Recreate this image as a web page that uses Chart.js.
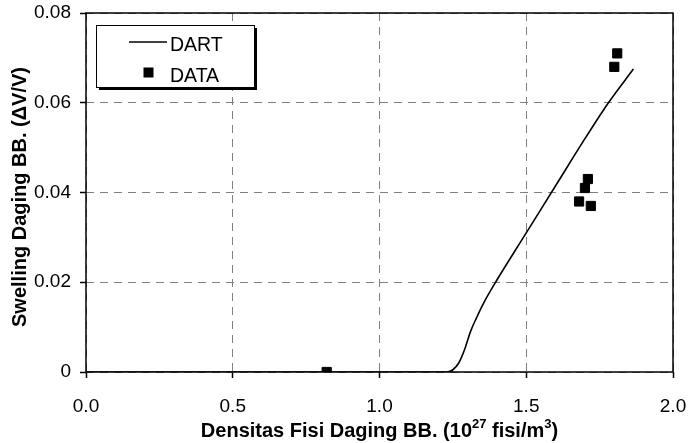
<!DOCTYPE html>
<html lang="en">
<head>
<meta charset="UTF-8">
<title>Swelling Daging BB</title>
<script src="https://cdn.jsdelivr.net/npm/chart.js@4.4.0/dist/chart.umd.min.js"></script>
<style>
  html, body { margin: 0; padding: 0; background: #fff; }
</style>
</head>
<body>
<canvas id="myChart" width="688" height="443"></canvas>
<script>
  // DART hasil perhitungan (garis)
  const dartX = [0, 0.5, 1.0, 1.23, 1.25, 1.27, 1.29, 1.31, 1.33, 1.36, 1.40, 1.50, 1.60, 1.70, 1.78, 1.865];
  const dartY = [0, 0, 0, 0, 0.0005, 0.002, 0.005, 0.009, 0.012, 0.016, 0.0205, 0.031, 0.0415, 0.052, 0.060, 0.0675];
  // data pengukuran (kotak)
  const dataX = [0.82, 1.68, 1.70, 1.71, 1.72, 1.80, 1.81];
  const dataY = [0, 0.038, 0.041, 0.043, 0.037, 0.068, 0.071];
  // label sumbu
  const xTicks = ['0.0', '0.5', '1.0', '1.5', '2.0'];
  const yTicks = ['0', '0.02', '0.04', '0.06', '0.08'];

  const FONT = "'Liberation Sans', Arial, sans-serif";

  // kotak plot, judul sumbu dan legenda
  const decor = {
    id: 'decor',
    afterDatasetsDraw(chart) {
      const ctx = chart.ctx;
      const a = chart.chartArea;
      ctx.save();
      // bingkai plot
      ctx.strokeStyle = '#000';
      ctx.lineWidth = 1.5;
      ctx.strokeRect(a.left, a.top, a.right - a.left, a.bottom - a.top);

      // legenda
      const lx = 96, ly = 25, lw = 158, lh = 62;
      ctx.fillStyle = '#000';
      ctx.fillRect(lx + 3, ly + 3, lw, lh);
      ctx.fillStyle = '#fff';
      ctx.fillRect(lx, ly, lw, lh);
      ctx.lineWidth = 1;
      ctx.strokeRect(lx + 0.5, ly + 0.5, lw, lh);
      ctx.beginPath();
      ctx.lineWidth = 1.5;
      ctx.moveTo(129, 42);
      ctx.lineTo(167, 42);
      ctx.stroke();
      ctx.fillStyle = '#000';
      ctx.fillRect(143.5, 67.5, 10, 10);
      ctx.font = '19.5px ' + FONT;
      ctx.textBaseline = 'middle';
      ctx.textAlign = 'left';
      ctx.fillText(chart.data.datasets[0].label, 170, 46);
      ctx.fillText(chart.data.datasets[1].label, 170, 77);

      // judul sumbu y
      ctx.save();
      ctx.translate(20, 197);
      ctx.rotate(-Math.PI / 2);
      ctx.font = 'bold 20px ' + FONT;
      ctx.textAlign = 'center';
      ctx.textBaseline = 'middle';
      ctx.fillText('Swelling Daging BB. (\u0394V/V)', 0, 0);
      ctx.restore();

      // judul sumbu x dengan pangkat
      const parts = [
        ['Densitas Fisi Daging BB. (10', false],
        ['27', true],
        [' fisi/m', false],
        ['3', true],
        [')', false]
      ];
      const big = 'bold 20px ' + FONT, small = 'bold 13px ' + FONT;
      let total = 0;
      parts.forEach(p => { ctx.font = p[1] ? small : big; total += ctx.measureText(p[0]).width; });
      let x = (a.left + a.right) / 2 - total / 2;
      const base = 437;
      ctx.textAlign = 'left';
      ctx.textBaseline = 'alphabetic';
      parts.forEach(p => {
        ctx.font = p[1] ? small : big;
        ctx.fillText(p[0], x, p[1] ? base - 9 : base);
        x += ctx.measureText(p[0]).width;
      });
      ctx.restore();
    }
  };

  const gridOpts = {
    color: '#808080',
    lineWidth: 1,
    tickColor: '#000',
    tickLength: 6,
    tickWidth: 1.5
  };

  const ctx = document.getElementById('myChart').getContext('2d');
  const myChart = new Chart(ctx, {
    type: 'scatter',
    data: {
      datasets: [{
        label: 'DART',
        data: dartX.map((v, i) => ({ x: v, y: dartY[i] })),
        showLine: true,
        borderColor: '#000',
        borderWidth: 1.6,
        pointRadius: 0,
        cubicInterpolationMode: 'monotone'
      }, {
        label: 'DATA',
        data: dataX.map((v, i) => ({ x: v, y: dataY[i] })),
        showLine: false,
        pointStyle: 'rect',
        pointRadius: 6.5,
        backgroundColor: '#000',
        borderColor: '#000',
        borderWidth: 1
      }]
    },
    options: {
      responsive: false,
      animation: false,
      devicePixelRatio: 1,
      layout: { padding: { left: 0, right: 15, top: 13, bottom: 0 } },
      plugins: { legend: { display: false }, tooltip: { enabled: false } },
      scales: {
        x: {
          type: 'linear',
          min: 0,
          max: 2,
          afterFit(scale) {
            scale.height = 71;
            scale.paddingLeft = 0;
            scale.paddingRight = 0;
          },
          ticks: {
            stepSize: 0.5,
            padding: 17,
            color: '#000',
            font: { family: FONT, size: 19 },
            callback: v => xTicks[Math.round(v / 0.5)]
          },
          grid: gridOpts,
          border: { display: false, dash: [8, 6] }
        },
        y: {
          min: 0,
          max: 0.08,
          afterFit(scale) {
            scale.width = 86;
            scale.paddingTop = 0;
            scale.paddingBottom = 0;
          },
          ticks: {
            stepSize: 0.02,
            padding: 9,
            color: '#000',
            font: { family: FONT, size: 19 },
            callback: v => yTicks[Math.round(v / 0.02)]
          },
          grid: gridOpts,
          border: { display: false, dash: [8, 6] }
        }
      }
    },
    plugins: [decor]
  });
</script>
</body>
</html>
